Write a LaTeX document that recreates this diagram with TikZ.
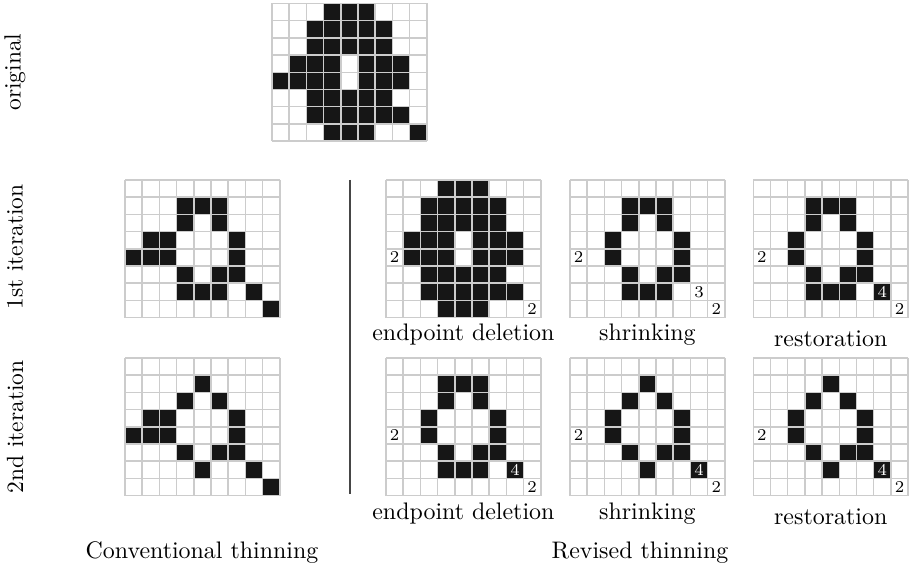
\documentclass[tikz,border=0pt]{standalone}
\usetikzlibrary{calc}
\definecolor{gridgray}{RGB}{204,204,204}
\definecolor{pixblack}{RGB}{22,22,22}
\definecolor{sepgray}{RGB}{70,70,70}
% cell size of every bitmap
\def\cs{17.2}
% draws a 9x8 bitmap with its top-left corner at (#1,#2); #3 lists the black cells as row/column
\newcommand{\bitmap}[3]{%
  \foreach \r/\c in {#3} {
    \fill[pixblack] (#1+\c*\cs, #2+\r*\cs) rectangle ++(\cs,\cs);
  }
  \foreach \i in {0,...,9} {
    \draw[cellgrid] (#1+\i*\cs, #2) -- ++(0, 8*\cs);
  }
  \foreach \j in {0,...,8} {
    \draw[cellgrid] (#1, #2+\j*\cs) -- ++(9*\cs, 0);
  }
}
\tikzset{
  cellgrid/.style={draw=gridgray, line width=0.65pt},
  cellnum/.style={font=\fontsize{7.2}{8}\selectfont, inner sep=0pt},
  cellnumw/.style={cellnum, text=white},
  caption/.style={anchor=base, inner sep=0pt, font=\fontsize{10.4}{12.5}\selectfont},
  rowlabel/.style={rotate=90, inner sep=0pt, font=\fontsize{10.2}{12.2}\selectfont},
  separator/.style={draw=sepgray, line width=0.45pt},
}
\begin{document}
\begin{tikzpicture}[x=0.4348pt, y=-0.4348pt]
\useasboundingbox (0,0) rectangle (911,571);

% original
\bitmap{272}{3.5}{0/3,0/4,0/5, 1/2,1/3,1/4,1/5,1/6, 2/2,2/3,2/4,2/5,2/6,
  3/1,3/2,3/3,3/5,3/6,3/7, 4/0,4/1,4/2,4/3,4/5,4/6,4/7,
  5/2,5/3,5/4,5/5,5/6, 6/2,6/3,6/4,6/5,6/6,6/7, 7/3,7/4,7/5,7/8}

% conventional thinning
\bitmap{125}{180}{1/3,1/4,1/5, 2/3,2/5, 3/1,3/2,3/6, 4/0,4/1,4/2,4/6,
  5/3,5/5,5/6, 6/3,6/4,6/5,6/7, 7/8}
\bitmap{125}{358}{1/4, 2/3,2/5, 3/1,3/2,3/6, 4/0,4/1,4/2,4/6,
  5/3,5/5,5/6, 6/4,6/7, 7/8}

% revised thinning, 1st iteration
\bitmap{386}{180}{0/3,0/4,0/5, 1/2,1/3,1/4,1/5,1/6, 2/2,2/3,2/4,2/5,2/6,
  3/1,3/2,3/3,3/5,3/6,3/7, 4/1,4/2,4/3,4/5,4/6,4/7,
  5/2,5/3,5/4,5/5,5/6, 6/2,6/3,6/4,6/5,6/6,6/7, 7/3,7/4,7/5}
\bitmap{570}{180}{1/3,1/4,1/5, 2/3,2/5, 3/2,3/6, 4/2,4/6, 5/3,5/5,5/6, 6/3,6/4,6/5}
\bitmap{753.3}{180}{1/3,1/4,1/5, 2/3,2/5, 3/2,3/6, 4/2,4/6, 5/3,5/5,5/6, 6/3,6/4,6/5,6/7}

% revised thinning, 2nd iteration
\bitmap{386}{358}{1/3,1/4,1/5, 2/3,2/5, 3/2,3/6, 4/2,4/6, 5/3,5/5,5/6, 6/3,6/4,6/5,6/7}
\bitmap{570}{358}{1/4, 2/3,2/5, 3/2,3/6, 4/2,4/6, 5/3,5/5,5/6, 6/4,6/7}
\bitmap{753.3}{358}{1/4, 2/3,2/5, 3/2,3/6, 4/2,4/6, 5/3,5/5,5/6, 6/4,6/7}

% numbers written in cells
\node[cellnum] (aL) at (386+0.5*\cs, 180+4.5*\cs) {2};
\node[cellnum] (aR) at (386+8.5*\cs, 180+7.5*\cs) {2};
\node[cellnum] (bL) at (570+0.5*\cs, 180+4.5*\cs) {2};
\node[cellnum] (bM) at (570+7.5*\cs, 180+6.5*\cs) {3};
\node[cellnum] (bR) at (570+8.5*\cs, 180+7.5*\cs) {2};
\node[cellnum] (cL) at (753.3+0.5*\cs, 180+4.5*\cs) {2};
\node[cellnumw] (cM) at (753.3+7.5*\cs, 180+6.5*\cs) {4};
\node[cellnum] (cR) at (753.3+8.5*\cs, 180+7.5*\cs) {2};
\node[cellnum] (dL) at (386+0.5*\cs, 358+4.5*\cs) {2};
\node[cellnumw] (dM) at (386+7.5*\cs, 358+6.5*\cs) {4};
\node[cellnum] (dR) at (386+8.5*\cs, 358+7.5*\cs) {2};
\node[cellnum] (eL) at (570+0.5*\cs, 358+4.5*\cs) {2};
\node[cellnumw] (eM) at (570+7.5*\cs, 358+6.5*\cs) {4};
\node[cellnum] (eR) at (570+8.5*\cs, 358+7.5*\cs) {2};
\node[cellnum] (fL) at (753.3+0.5*\cs, 358+4.5*\cs) {2};
\node[cellnumw] (fM) at (753.3+7.5*\cs, 358+6.5*\cs) {4};
\node[cellnum] (fR) at (753.3+8.5*\cs, 358+7.5*\cs) {2};

% step captions
\node[caption] (ed1) at (463.4,341) {endpoint deletion};
\node[caption] (sh1) at (647.4,341) {shrinking};
\node[caption] (re1) at (830.7,346.5) {restoration};
\node[caption] (ed2) at (463.4,519) {endpoint deletion};
\node[caption] (sh2) at (647.4,519) {shrinking};
\node[caption] (re2) at (830.7,524.5) {restoration};

% column captions
\node[caption] (conv) at (202,558) {Conventional thinning};
\node[caption] (rev) at (640,558) {Revised thinning};

% row labels
\node[rowlabel] (lorig) at (15,72) {original};
\node[rowlabel] (lit1) at (15,247) {1st iteration};
\node[rowlabel] (lit2) at (15,427) {2nd iteration};

% separator between the two methods
\coordinate (sepTop) at (350,180);
\coordinate (sepBot) at (350,494);
\draw[separator] (sepTop) -- (sepBot);
\end{tikzpicture}
\end{document}
